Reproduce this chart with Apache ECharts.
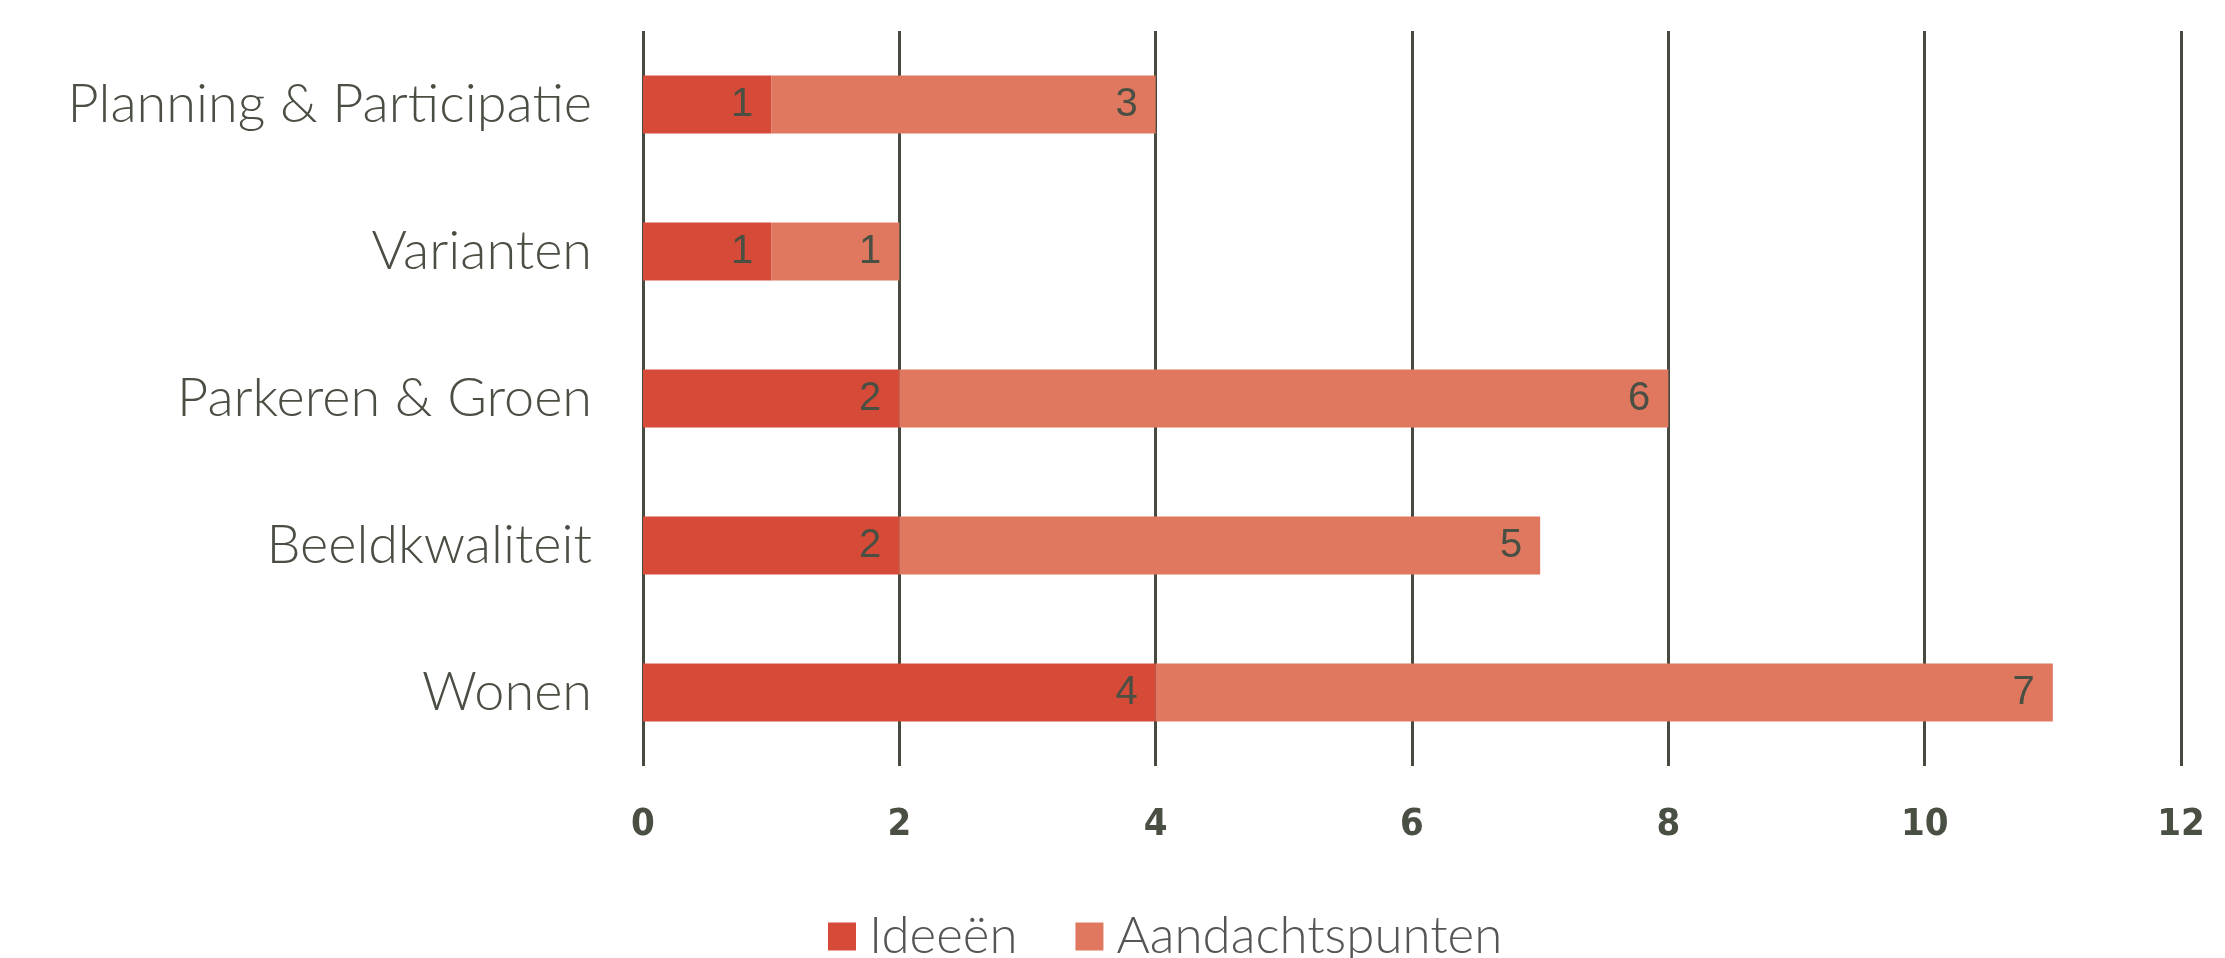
<!DOCTYPE html>
<html>
<head>
    <meta charset="utf-8">
    <style>
        html, body { margin: 0; padding: 0; background: #ffffff; }
        #chart { width: 2225px; height: 958px; }
    </style>
    <script src="https://cdn.jsdelivr.net/npm/echarts@6/dist/echarts.min.js"></script>
</head>
<body>
    <div id="chart"></div>
    <script type="text/javascript">
        // categories from top to bottom
        var categories = ['Planning & Participatie', 'Varianten', 'Parkeren & Groen', 'Beeldkwaliteit', 'Wonen'];
        var ideeen = [1, 1, 2, 2, 4];
        var aandachtspunten = [3, 1, 6, 5, 7];
        var seriesNames = ['Ideeën', 'Aandachtspunten'];

        var textColor = '#4a4f44';
        var lineColor = '#474a3f';

        var myChart = echarts.init(document.getElementById('chart'));

        var valueLabel = {
            show: true,
            position: 'insideRight',
            distance: 18,
            color: textColor,
            fontFamily: 'Liberation Sans',
            fontSize: 40
        };

        myChart.setOption({
            animation: false,
            backgroundColor: '#ffffff',
            grid: { left: 643, right: 44, top: 31, bottom: 192 },
            legend: {
                data: seriesNames,
                left: 823,
                top: 906,
                icon: 'rect',
                itemWidth: 28,
                itemHeight: 28,
                itemGap: 58,
                textStyle: {
                    color: '#555555',
                    fontFamily: 'Lato',
                    fontWeight: 300,
                    fontSize: 51,
                    padding: [0, 0, 0, 8]
                }
            },
            xAxis: {
                type: 'value',
                min: 0,
                max: 12,
                interval: 2,
                axisLine: { show: false },
                axisTick: { show: false },
                axisLabel: {
                    margin: 40,
                    color: textColor,
                    fontFamily: 'DejaVu Sans Condensed, Liberation Sans, sans-serif',
                    fontWeight: 'bold',
                    fontSize: 38
                },
                splitLine: { show: true, lineStyle: { color: lineColor, width: 3 } }
            },
            yAxis: {
                type: 'category',
                inverse: true,
                data: categories,
                axisLine: { show: false },
                axisTick: { show: false },
                axisLabel: {
                    margin: 51,
                    color: textColor,
                    fontFamily: 'Lato',
                    fontWeight: 300,
                    fontSize: 54
                }
            },
            series: [
                {
                    name: seriesNames[0],
                    type: 'bar',
                    stack: 'total',
                    barWidth: 58,
                    itemStyle: { color: '#d64b38' },
                    label: valueLabel,
                    data: ideeen
                },
                {
                    name: seriesNames[1],
                    type: 'bar',
                    stack: 'total',
                    barWidth: 58,
                    itemStyle: { color: '#e07860' },
                    label: valueLabel,
                    data: aandachtspunten
                }
            ]
        });
    </script>
</body>
</html>
